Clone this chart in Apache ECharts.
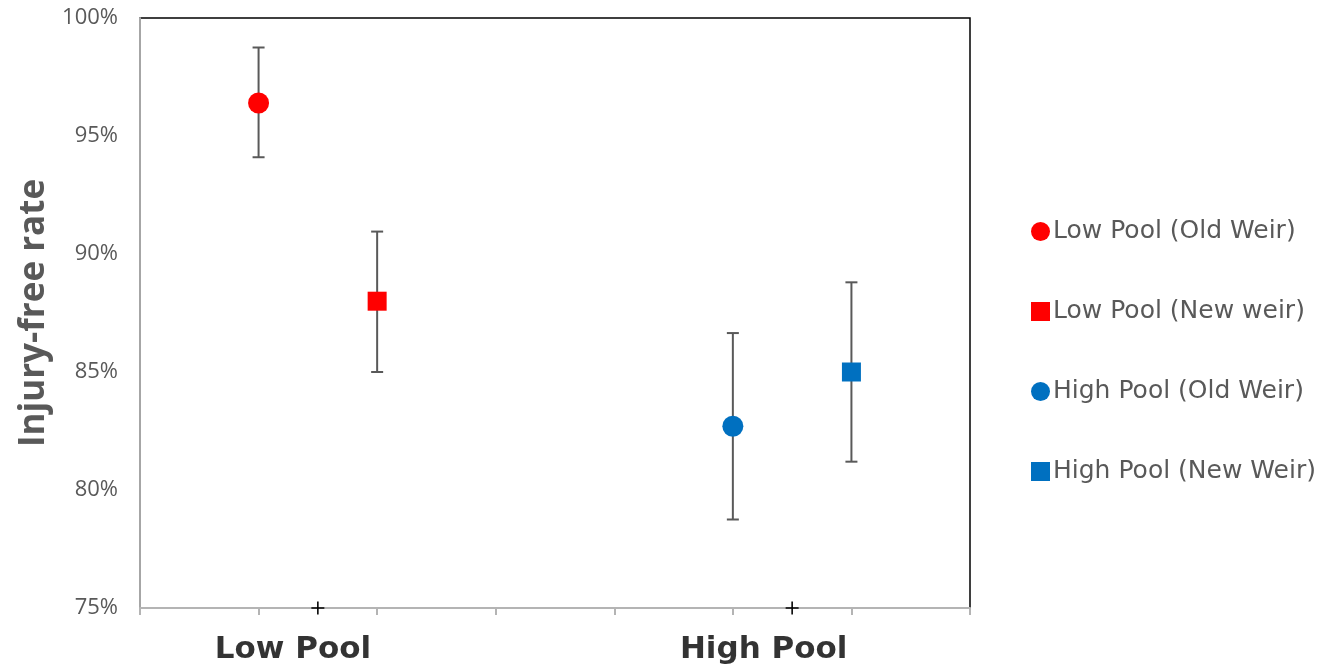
<!DOCTYPE html>
<html><head><meta charset="utf-8">
<script src="https://cdn.jsdelivr.net/npm/echarts@6/dist/echarts.min.js"></script>
<style>html,body{margin:0;padding:0;background:#fff}#c{width:1337px;height:668px}</style>
</head><body><div id="c"></div>
<script>
const seriesNames = ['Low Pool (Old Weir)', 'Low Pool (New weir)', 'High Pool (Old Weir)', 'High Pool (New Weir)'];
const xPos = [1, 2, 5, 6];
const means = [96.4, 88.0, 82.7, 85.0];
const lower = [94.1, 85.0, 78.75, 81.2];
const upper = [98.75, 90.95, 86.65, 88.8];
const colors = ['#FF0000', '#FF0000', '#0070C0', '#0070C0'];
const symbols = ['circle', 'rect', 'circle', 'rect'];
const groupLabels = ['Low Pool', 'High Pool'];
const groupLabelX = [1.29, 5.26];
const groupTickX = [1.5, 5.5];
const yTicks = [75, 80, 85, 90, 95, 100];

const FONT = 'Open Sans';
const WIDE = 'DejaVu Sans';
const chart = echarts.init(document.getElementById('c'), null, {renderer: 'canvas'});

const series = [];
series.push({
  type: 'custom',
  name: 'err',
  z: 1,
  data: xPos.map((x, i) => [x, lower[i], upper[i]]),
  renderItem: function (params, api) {
    const lo = api.coord([api.value(0), api.value(1)]);
    const hi = api.coord([api.value(0), api.value(2)]);
    const w = 6;
    const st = {stroke: '#595959', lineWidth: 2};
    return {type: 'group', children: [
      {type: 'line', shape: {x1: lo[0], y1: lo[1], x2: hi[0], y2: hi[1]}, style: st},
      {type: 'line', shape: {x1: lo[0] - w, y1: lo[1], x2: lo[0] + w, y2: lo[1]}, style: st},
      {type: 'line', shape: {x1: hi[0] - w, y1: hi[1], x2: hi[0] + w, y2: hi[1]}, style: st}
    ]};
  }
});
seriesNames.forEach((n, i) => {
  series.push({
    type: 'scatter', name: n, z: 5,
    symbol: symbols[i], symbolSize: symbols[i] === 'circle' ? 21 : 19,
    itemStyle: {color: colors[i], opacity: 1},
    data: [[xPos[i], means[i]]]
  });
});
// group tick "+" marks
series.push({
  type: 'scatter', name: 'ticks', z: 6, silent: true,
  symbol: 'path://M4.4,0H5.6V4.4H10V5.6H5.6V10H4.4V5.6H0V4.4H4.4Z', symbolSize: 13,
  itemStyle: {color: '#000', opacity: 1},
  data: groupTickX.map(x => [x, 75])
});
// group labels
series.push({
  type: 'scatter', name: 'labels', z: 6, silent: true,
  symbolSize: 0,
  data: groupLabels.map((t, i) => ({value: [groupLabelX[i], 75], name: t})),
  label: {show: true, position: 'bottom', distance: 26, formatter: p => p.name,
    fontFamily: WIDE, fontWeight: 'bold', fontSize: 31, color: '#000'}
});

chart.setOption({
  animation: false,
  grid: {left: 140, right: 367, top: 18, bottom: 60, show: true, borderColor: '#000', borderWidth: 1.5},
  xAxis: {
    type: 'value', min: 0, max: 7, interval: 1,
    axisLine: {show: true, lineStyle: {color: '#B4B4B4', width: 2}},
    axisTick: {show: true, length: 7, lineStyle: {color: '#B4B4B4', width: 2}},
    axisLabel: {show: false},
    splitLine: {show: false}
  },
  yAxis: {
    type: 'value', min: 75, max: 100, interval: 5,
    name: 'Injury-free rate', nameLocation: 'middle', nameRotate: 90, nameGap: 88,
    nameTextStyle: {fontFamily: FONT, fontWeight: 'bold', fontSize: 35, color: '#595959'},
    axisLine: {show: true, lineStyle: {color: '#A6A6A6', width: 2}},
    axisTick: {show: false},
    axisLabel: {formatter: v => yTicks.includes(v) ? v + '%' : '', fontFamily: FONT, fontSize: 22, color: '#595959', margin: 22},
    splitLine: {show: false}
  },
  legend: {
    orient: 'vertical', left: 1026, top: 214,
    data: seriesNames,
    itemWidth: 19, itemHeight: 19, itemGap: 55,
    textStyle: {fontFamily: WIDE, fontSize: 25, color: '#595959', padding: [0, 0, 0, -2]}
  },
  series: series
});
</script></body></html>
